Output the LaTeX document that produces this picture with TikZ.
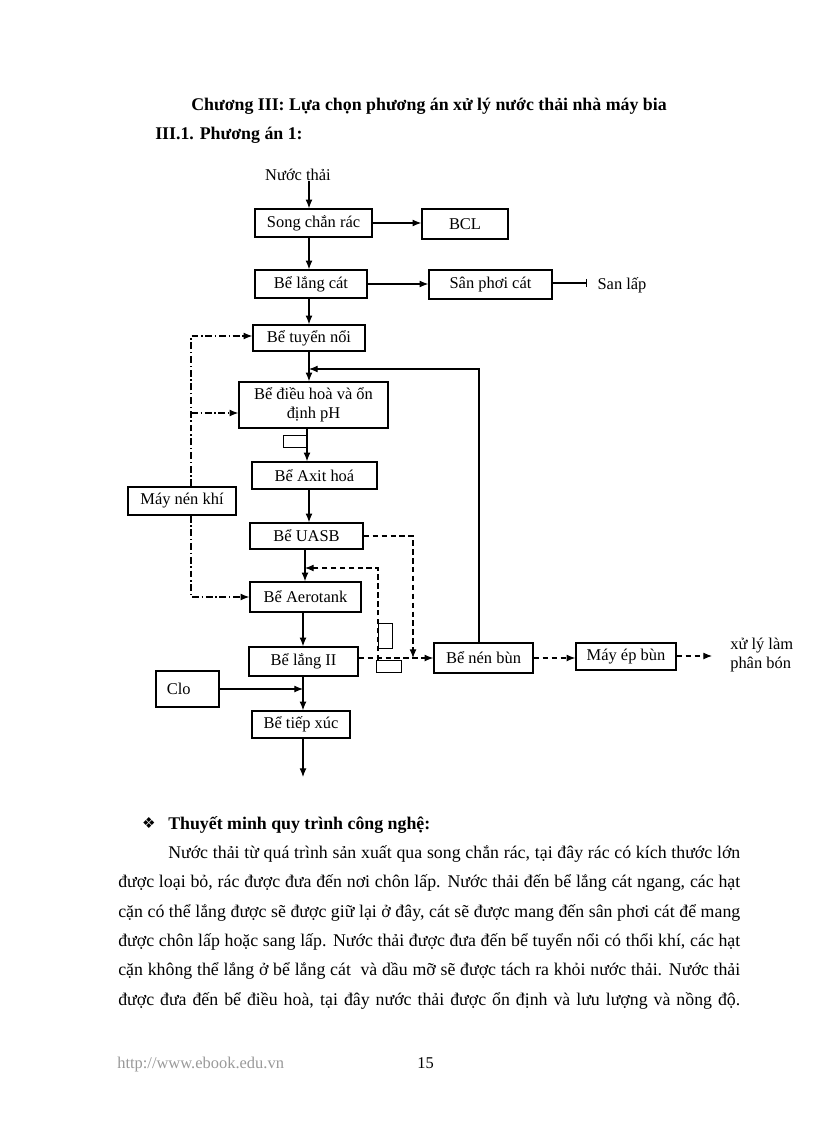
\documentclass[tikz,border=0pt]{standalone}
\usepackage{fontspec}
\setmainfont{Liberation Serif}
\newfontfamily\dejavu{DejaVu Sans}
\usetikzlibrary{arrows.meta}
\newdimen\pxu \pxu=0.7292pt
\begin{document}
\begin{tikzpicture}[x=0.7292pt,y=-0.7292pt,
  box/.style 2 args={draw, line width=1.1pt, minimum width={#1*0.7292pt}, minimum height={#2*0.7292pt}, inner sep=0pt, font=\fontsize{12}{13.9}\selectfont, align=center},
  pump/.style 2 args={draw, line width=0.7pt, minimum width={#1*0.7292pt}, minimum height={#2*0.7292pt}, inner sep=0pt},
  ln/.style={line width=0.75pt},
  arr/.style={ln, -{Latex[length=6.3pt,width=5pt]}},
  dsh/.style={dash pattern=on 4pt off 2.5pt},
  dd/.style={dash pattern=on 5pt off 2pt on 1pt off 2pt},
  lbl/.style={font=\fontsize{12}{13.9}\selectfont, inner sep=0pt},
  body/.style={font=\fontsize{13}{15}\selectfont, anchor=base west, inner sep=0pt},
  hd/.style={font=\fontsize{13}{15}\selectfont\bfseries, inner sep=0pt}]
\useasboundingbox (0,0) rectangle (816,1123);

% headings
\node[hd, anchor=base] (title) at (429,111) {Chương III: Lựa chọn phương án xử lý nước thải nhà máy bia};
\node[hd, anchor=base west] (sec) at (155,140) {III.1. Phương án 1:};

% column coordinates
\coordinate (m1) at (309,0);
\coordinate (m2) at (307,0);
\coordinate (m3) at (305,0);
\coordinate (m4) at (303,0);

% nodes
\node[lbl] (nt) at (298,175) {Nước thải};
\node[box={117}{28}] (song) at (313.5,223) {Song chắn rác};
\node[box={86}{30}] (bcl) at (465,224) {BCL};
\node[box={112}{28}] (langcat) at (311,284) {Bể lắng cát};
\node[box={123}{29}] (sanphoi) at (490.5,284.5) {Sân phơi cát};
\node[lbl] (sanlap) at (622,285) {San lấp};
\node[box={112}{26}] (tuyen) at (309,338) {Bể tuyển nổi};
\node[box={149}{46}] (dieuhoa) at (313.5,405) {Bể điều hoà và ổn\\định pH};
\node[pump={24}{12}] (p1) at (295,441) {};
\node[box={125}{27}] (axit) at (314.5,475.5) {Bể Axit hoá};
\node[box={108}{28}] (mnk) at (182,501) {Máy nén khí};
\node[box={113}{26}] (uasb) at (306.5,536) {Bể UASB};
\node[box={111}{30}] (aero) at (305.5,597) {Bể Aerotank};
\node[pump={14}{25}] (p2) at (385,635.5) {};
\node[box={109}{29}] (lang2) at (303.5,661.5) {Bể lắng II};
\node[pump={25}{12}] (p3) at (388.5,666) {};
\node[box={99}{30}] (nenbun) at (483.5,658) {Bể nén bùn};
\node[box={100}{27}] (mayep) at (626,656.5) {Máy ép bùn};
\node[lbl, align=left, anchor=west] (xl) at (730,655) {xử lý làm\\phân bón};
\node[box={63}{36}, inner xsep=8pt, text width=30pt, align=left] (clo) at (187.5,689) {Clo};
\node[box={98}{27}] (tiep) at (301,724.5) {Bể tiếp xúc};

% helper coordinates
\coordinate (bar) at (587,283);
\coordinate (ret) at (479,369);
\coordinate (j1) at (413,658);
\coordinate (j2) at (378,660);
\coordinate (j3) at (378,568);
\coordinate (a1) at (191,336);
\coordinate (a2) at (191,413);
\coordinate (a3) at (191,597);
\coordinate (outp) at (712,656);
\coordinate (endp) at (303,777);

% main flow
\draw[arr] (nt.south -| m1) -- (song.north -| m1);
\draw[arr] (song.east) -- (song.east -| bcl.west);
\draw[arr] (song.south -| m1) -- (langcat.north -| m1);
\draw[arr] (langcat.east) -- (langcat.east -| sanphoi.west);
\draw[ln, -{Bar[width=6pt]}] (sanphoi.east |- bar) -- (bar);
\draw[arr] (langcat.south -| m1) -- (tuyen.north -| m1);
\draw[arr] (tuyen.south -| m1) -- (dieuhoa.north -| m1);
\draw[arr] (nenbun.north -| ret) -- (ret) -- (ret -| m1);
\draw[arr] (dieuhoa.south -| m2) -- (axit.north -| m2);
\draw[arr] (axit.south -| m1) -- (uasb.north -| m1);
\draw[arr] (uasb.south -| m3) -- (aero.north -| m3);
\draw[arr] (aero.south -| m4) -- (lang2.north -| m4);
\draw[arr] (lang2.south -| m4) -- (tiep.north -| m4);
\draw[arr] (clo.east) -- (clo.east -| m4);
\draw[arr] (tiep.south -| m4) -- (endp);

% sludge lines (dashed)
\draw[arr, dsh] (uasb.east) -| (j1);
\draw[arr, dsh] (j2) -- (j3) -- (j3 -| m3);
\draw[arr, dsh] (lang2.east |- j1) -- (nenbun.west |- j1);
\draw[arr, dsh] (nenbun.east |- j1) -- (mayep.west |- j1);
\draw[arr, dsh] (mayep.east |- outp) -- (outp);

% air lines (dash-dot)
\draw[arr, dd] (mnk.north -| a1) -- (a1) -- (a1 -| tuyen.west);
\draw[arr, dd] (a2) -- (a2 -| dieuhoa.west);
\draw[arr, dd] (mnk.south -| a3) -- (a3) -- (a3 -| aero.west);

% text
\node[font=\dejavu\fontsize{11}{12}\selectfont, inner sep=0pt] (bul) at (149,823) {❖};
\node[hd, anchor=base west] (tm) at (168,829) {Thuyết minh quy trình công nghệ:};
\node[body] (l1) at (168,858) {\hbox to 572\pxu{Nước thải từ quá trình sản xuất qua song chắn rác, tại đây rác có kích thước lớn}};
\node[body] (l2) at (118,887) {\hbox to 622\pxu{được loại bỏ, rác được đưa đến nơi chôn lấp. Nước thải đến bể lắng cát ngang, các hạt}};
\node[body] (l3) at (118,917) {\hbox to 622\pxu{cặn có thể lắng được sẽ được giữ lại ở đây, cát sẽ được mang đến sân phơi cát để mang}};
\node[body] (l4) at (118,946) {\hbox to 622\pxu{được chôn lấp hoặc sang lấp. Nước thải được đưa đến bể tuyển nổi có thổi khí, các hạt}};
\node[body] (l5) at (118,975) {\hbox to 622\pxu{cặn không thể lắng ở bể lắng cát\ \ và dầu mỡ sẽ được tách ra khỏi nước thải. Nước thải}};
\node[body] (l6) at (118,1005) {\hbox to 622\pxu{được đưa đến bể điều hoà, tại đây nước thải được ổn định và lưu lượng và nồng độ.}};

% footer
\node[lbl, anchor=base west, text=black!40] (url) at (117,1068) {http://www.ebook.edu.vn};
\node[lbl, anchor=base west] (pg) at (417,1068) {15};
\end{tikzpicture}
\end{document}
